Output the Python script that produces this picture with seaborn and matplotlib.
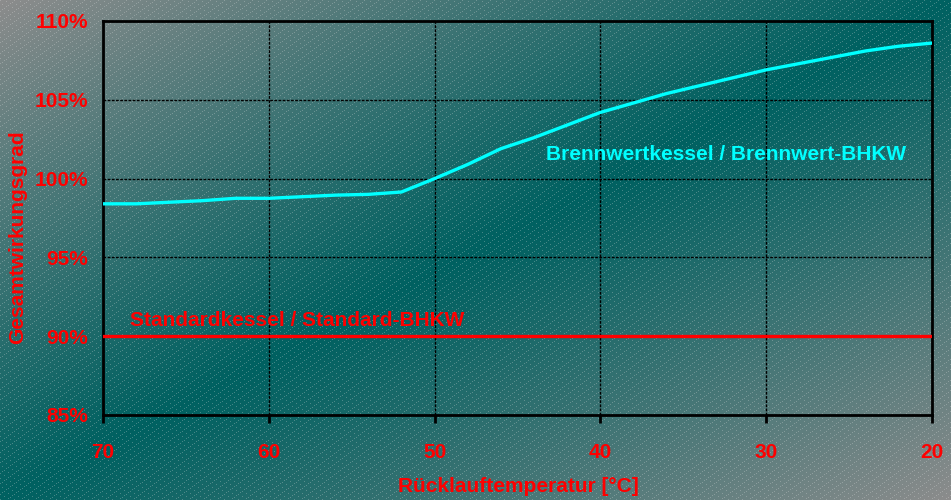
import numpy as np
import pandas as pd
import matplotlib
matplotlib.use("Agg")
import matplotlib.pyplot as plt
import seaborn as sns

# Return temperature in °C (axis runs from 70 down to 20)
temperature = [70, 68, 66, 64, 62, 60, 58, 56, 54, 52, 50, 48, 46,
               44, 42, 40, 38, 36, 34, 32, 30, 28, 26, 24, 22, 20]
# Overall efficiency, condensing boiler / condensing CHP (%)
condensing = [98.4, 98.4, 98.5, 98.6, 98.75, 98.75, 98.85, 98.95, 99.0, 99.15,
              100.0, 100.9, 101.9, 102.6, 103.4, 104.2, 104.8, 105.4, 105.9,
              106.4, 106.9, 107.3, 107.7, 108.1, 108.4, 108.6]
# Overall efficiency, standard boiler / standard CHP (%)
standard = [90.0] * len(temperature)

y_ticks = [85, 90, 95, 100, 105, 110]
x_ticks = [70, 60, 50, 40, 30, 20]
series_names = ["Brennwertkessel / Brennwert-BHKW", "Standardkessel / Standard-BHKW"]

sns.set_style("ticks")
plt.rcParams["font.family"] = ["Liberation Sans", "DejaVu Sans"]
plt.rcParams["font.weight"] = "bold"

W, H = 951, 500
FS = 15
fig = plt.figure(figsize=(W / 100, H / 100), dpi=100)

# Background: diagonal grey-teal-grey gradient with fine light hatching
yy, xx = np.mgrid[0:H, 0:W]
t = (xx / W + yy / H) / 2.0
w = np.clip(np.abs(t - 0.5) * 2.0, 0, 1) ** 1.1
teal = np.array([0.0, 0.38, 0.38])
grey = np.array([0.55, 0.55, 0.55])
img = teal[None, None, :] * (1 - w[..., None]) + grey[None, None, :] * w[..., None]
stripe = (((3 * xx + 4 * yy) % 21) < 3) & ((xx % 2) == 0)
img[stripe] = img[stripe] * 0.72 + 0.28 * np.array([0.9, 0.9, 0.9])

bg = fig.add_axes([0, 0, 1, 1], zorder=0)
bg.imshow(img, aspect="auto", interpolation="nearest", extent=(0, W, H, 0))
bg.set_axis_off()

ax = fig.add_axes([103 / W, 1 - 415 / H, (932 - 103) / W, (415 - 21) / H], zorder=1)
ax.patch.set_alpha(0)

df = pd.DataFrame({
    "Temperatur": temperature * 2,
    "Wirkungsgrad": condensing + standard,
    "Kessel": [series_names[0]] * len(temperature) + [series_names[1]] * len(temperature),
})
sns.lineplot(data=df, x="Temperatur", y="Wirkungsgrad", hue="Kessel",
             palette={series_names[0]: "#00ffff", series_names[1]: "#ff0000"},
             linewidth=2.4, legend=False, ax=ax, zorder=3)

ax.set_xlim(70, 20)
ax.set_ylim(85, 110)
ax.set_xticks(x_ticks)
ax.set_yticks(y_ticks)
ax.set_xticklabels([str(v) for v in x_ticks])
ax.set_yticklabels([f"{v}%" for v in y_ticks])
ax.grid(True, color="black", linestyle=(0, (2, 1)), linewidth=1)
for s in ax.spines.values():
    s.set_visible(True)
    s.set_color("black")
    s.set_linewidth(2)
ax.tick_params(axis="x", direction="out", length=6, width=2, color="black",
               pad=14, labelcolor="red", labelsize=FS)
ax.tick_params(axis="y", length=0, pad=11, labelcolor="red", labelsize=FS)
for lab in ax.get_xticklabels() + ax.get_yticklabels():
    lab.set_fontweight("bold")
ax.set_xlabel("")
ax.set_ylabel("")

ax.text(32.4, 101.5, series_names[0], color="#00ffff", fontsize=FS,
        fontweight="bold", ha="center", va="center")
ax.text(68.4, 91.0, series_names[1], color="red", fontsize=FS,
        fontweight="bold", ha="left", va="center")

fig.text(518 / W, 1 - 486 / H, "Rücklauftemperatur [°C]", color="red",
         fontsize=FS, fontweight="bold", ha="center", va="center")
fig.text(18 / W, 1 - 237 / H, "Gesamtwirkungsgrad", color="red", fontsize=FS,
         fontweight="bold", rotation=90, ha="center", va="center")

fig.savefig("out.png", dpi=100)
